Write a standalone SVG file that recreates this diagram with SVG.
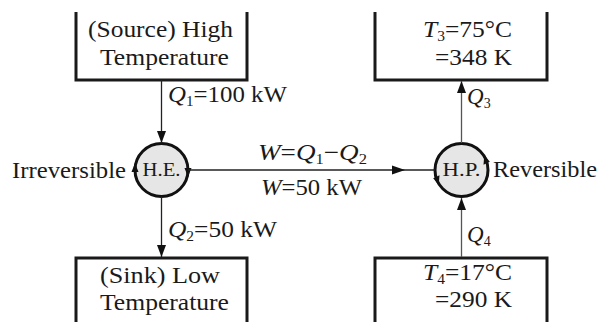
<svg xmlns="http://www.w3.org/2000/svg" width="598" height="322" viewBox="0 0 598 322">
<defs>
<style>
text{font-family:'Liberation Serif','DejaVu Serif',serif;font-size:23px;fill:#1a1a1a}
.box{fill:none;stroke:#1a1a1a;stroke-width:3}
.node{fill:#e6e6e6;stroke:#111;stroke-width:3}
.ln{fill:none;stroke:#222;stroke-width:1.3}
.ln2{fill:none;stroke:#555;stroke-width:1.3}
.ah{fill:#111}
.it{font-style:italic}
.sub{font-size:14px}
.lbl{font-size:18px}
</style>
</defs>
<g id="source">
<path class="box" d="M76,12 V80 H247 V12"/>
<text x="88" y="37" textLength="145" lengthAdjust="spacingAndGlyphs">(Source) High</text>
<text x="100" y="65" textLength="129" lengthAdjust="spacingAndGlyphs">Temperature</text>
</g>
<g id="sink">
<path class="box" d="M76,330 V258 H247 V330"/>
<text x="100" y="283" textLength="120" lengthAdjust="spacingAndGlyphs">(Sink) Low</text>
<text x="100" y="310" textLength="129" lengthAdjust="spacingAndGlyphs">Temperature</text>
</g>
<g id="hot">
<path class="box" d="M375,12 V80 H547 V12"/>
<text x="423" y="37" textLength="89" lengthAdjust="spacingAndGlyphs"><tspan class="it">T</tspan><tspan class="sub" dy="4">3</tspan><tspan dy="-4">=75°C</tspan></text>
<text x="435" y="65" textLength="77" lengthAdjust="spacingAndGlyphs">=348 K</text>
</g>
<g id="cold">
<path class="box" d="M375,330 V258 H547 V330"/>
<text x="423" y="280" textLength="89" lengthAdjust="spacingAndGlyphs"><tspan class="it">T</tspan><tspan class="sub" dy="4">4</tspan><tspan dy="-4">=17°C</tspan></text>
<text x="435" y="307" textLength="77" lengthAdjust="spacingAndGlyphs">=290 K</text>
</g>
<g id="he">
<circle class="node" cx="161.5" cy="170" r="26.5"/>
<text class="lbl" x="142.5" y="176" textLength="38" lengthAdjust="spacingAndGlyphs">H.E.</text>
<polygon class="ah" points="135,163 131.5,172 138.5,172"/>
<polygon class="ah" points="188,177 184.5,168 191.5,168"/>
<text x="12" y="178" textLength="114" lengthAdjust="spacingAndGlyphs">Irreversible</text>
</g>
<g id="hp">
<circle class="node" cx="461.5" cy="170" r="26.5"/>
<text class="lbl" x="442.5" y="176" textLength="38" lengthAdjust="spacingAndGlyphs">H.P.</text>
<polygon class="ah" points="484.3,154.9 483.5,164.7 489.8,161.7"/>
<polygon class="ah" points="438.7,185.1 439.5,175.3 433.2,178.3"/>
<text x="493" y="177" textLength="104" lengthAdjust="spacingAndGlyphs">Reversible</text>
</g>
<g id="connectors">
<line class="ln" x1="161.5" y1="80" x2="161.5" y2="143"/>
<polygon class="ah" points="161.5,143 157,131 166,131"/>
<line class="ln" x1="161.5" y1="196.5" x2="161.5" y2="257"/>
<polygon class="ah" points="161.5,257 157,245 166,245"/>
<line class="ln" x1="188" y1="170" x2="435" y2="170"/>
<polygon class="ah" points="405,170 392,165.5 392,174.5"/>
<line class="ln2" x1="461.5" y1="143" x2="461.5" y2="81"/>
<polygon class="ah" points="461.5,81 457,93 466,93"/>
<line class="ln2" x1="461.5" y1="257" x2="461.5" y2="198"/>
<polygon class="ah" points="461.5,198 457,210 466,210"/>
<text x="168" y="102" textLength="119" lengthAdjust="spacingAndGlyphs"><tspan class="it">Q</tspan><tspan class="sub" dy="4">1</tspan><tspan dy="-4">=100 kW</tspan></text>
<text x="168" y="237" textLength="109" lengthAdjust="spacingAndGlyphs"><tspan class="it">Q</tspan><tspan class="sub" dy="4">2</tspan><tspan dy="-4">=50 kW</tspan></text>
<text x="467" y="104"><tspan class="it">Q</tspan><tspan class="sub" dy="4">3</tspan></text>
<text x="467" y="242"><tspan class="it">Q</tspan><tspan class="sub" dy="4">4</tspan></text>
<text x="258" y="160" textLength="109" lengthAdjust="spacingAndGlyphs"><tspan class="it">W</tspan>=<tspan class="it">Q</tspan><tspan class="sub" dy="4">1</tspan><tspan dy="-4">−</tspan><tspan class="it">Q</tspan><tspan class="sub" dy="4">2</tspan></text>
<text x="261" y="195" textLength="101" lengthAdjust="spacingAndGlyphs"><tspan class="it">W</tspan>=50 kW</text>
</g>
</svg>
